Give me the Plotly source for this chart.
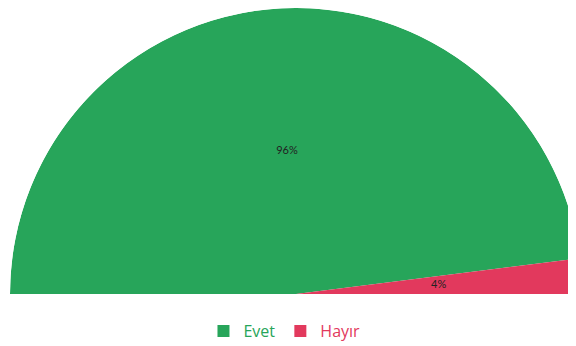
import plotly.graph_objects as go

labels = ["Evet", "Hayır"]
values = [96, 4]
colors = ["#27a55a", "#e2395d"]

total = sum(values)
spans = [180.0 * v / total for v in values]
starts = []
acc = 180.0
for s in spans:
    starts.append(acc - s)
    acc -= s
mids = [st + s / 2 for st, s in zip(starts, spans)]

fig = go.Figure()
for lab, v, c, m, s in zip(labels, values, colors, mids, spans):
    fig.add_trace(go.Barpolar(
        r=[1], theta=[m], width=[s],
        marker=dict(color=c, line=dict(width=0)),
        name=f"<span style='color:{c}'>{lab}</span>",
        hoverinfo="skip",
    ))

fig.add_trace(go.Scatterpolar(
    r=[0.5] * len(values), theta=mids, mode="text",
    text=[f"{round(100 * v / total)}%" for v in values],
    textfont=dict(size=11, color="#222222", family="Lato"),
    showlegend=False, hoverinfo="skip",
))

fig.update_layout(
    width=576, height=346,
    margin=dict(l=0, r=0, t=0, b=60),
    paper_bgcolor="white",
    font=dict(family="Open Sans", size=16),
    polar=dict(
        sector=[0, 180],
        bgcolor="white",
        bargap=0,
        hole=0,
        domain=dict(x=[0, 1], y=[0, 1]),
        radialaxis=dict(visible=False, range=[0, 1]),
        angularaxis=dict(visible=False, direction="counterclockwise", rotation=0),
    ),
    legend=dict(orientation="h", x=0.48, xanchor="center", y=-0.13, yanchor="middle",
                font=dict(size=16, family="Open Sans"), itemwidth=30),
    showlegend=True,
)

fig.write_html("out.html")
